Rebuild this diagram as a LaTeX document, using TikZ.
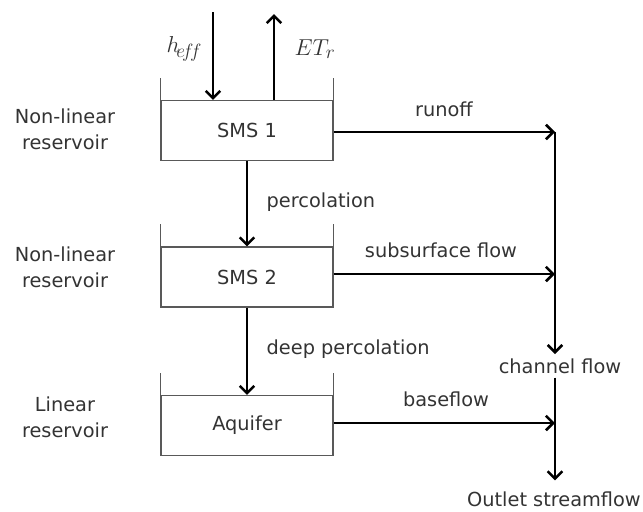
\documentclass[tikz,border=0pt]{standalone}
\usepackage{fontspec}
\setmainfont{DejaVu Sans}
\usetikzlibrary{arrows.meta,positioning,calc}

\begin{document}
\begin{tikzpicture}[
    x=0.75pt, y=-0.75pt,
    every node/.style={
        font=\fontsize{14.5}{19.5}\selectfont,
        text=black!80
    },
    tank/.style={
        draw=black!65,
        line width=0.8pt,
        minimum width=129pt,
        minimum height=45pt
    },
    wall/.style={draw=black!65, line width=0.8pt},
    flow/.style={
        line width=1.9pt,
        -{Straight Barb[length=5.5pt,width=11pt]}
    },
    lbl/.style={anchor=base},
    side/.style={align=center},
    sym/.style={anchor=base west, font=\fontsize{19}{22}\selectfont}
]
\useasboundingbox (0,0) rectangle (643,511);

% the three stores
\node[tank] (sms1) at (247,130.5) {SMS 1};
\node[tank] (sms2) at (247,277) {SMS 2};
\node[tank] (aqf) at (247,425.5) {Aquifer};

\foreach \t in {sms1,sms2,aqf} {
    \draw[wall] (\t.north west) -- ++(0,-22);
    \draw[wall] (\t.north east) -- ++(0,-22);
}

% reservoir types
\node[side] (type1) at (65,129.5) {Non-linear\\reservoir};
\node[side] (type2) at (65,267.5) {Non-linear\\reservoir};
\node[side] (type3) at (65,417) {Linear\\reservoir};

% rain in, evaporation out
\coordinate (rain) at (213,12);
\coordinate (evap) at (274,14);
\draw[flow] (rain) -- (rain |- sms1.north);
\draw[flow] (evap |- sms1.north) -- (evap);
\node[sym] (heff) at (162,52) {$h_{\!e\!f\!f}$};
\node[sym] (etr) at (290,55) {$ET_r$};

% vertical exchange
\draw[flow] (sms1.south) -- (sms2.north);
\draw[flow] (sms2.south) -- (aqf.north);
\node[lbl, anchor=base west] (perc) at (262,207) {percolation};
\node[lbl, anchor=base west] (dperc) at (262,354) {deep percolation};

% lateral flows to the channel
\coordinate (c1) at (555,132);
\coordinate (c2) at (555,274);
\coordinate (c3) at (555,423);
\draw[flow] (sms1.east |- c1) -- (c1);
\draw[flow] (sms2.east |- c2) -- (c2);
\draw[flow] (aqf.east |- c3) -- (c3);
\node[lbl] (runoff) at (444,116) {runoff};
\node[lbl] (subflow) at (441,257) {subsurface flow};
\node[lbl] (bflow) at (446,406) {baseflow};

% channel
\node[lbl, inner sep=3pt] (chan) at (560,373) {channel flow};
\node[lbl, inner sep=3pt] (outlet) at (554,506) {Outlet streamflow};
\draw[flow] (c1) -- (c1 |- chan.north);
\draw[flow, shorten >=5pt] (c1 |- chan.south) -- (c1 |- outlet.north);

\end{tikzpicture}
\end{document}
